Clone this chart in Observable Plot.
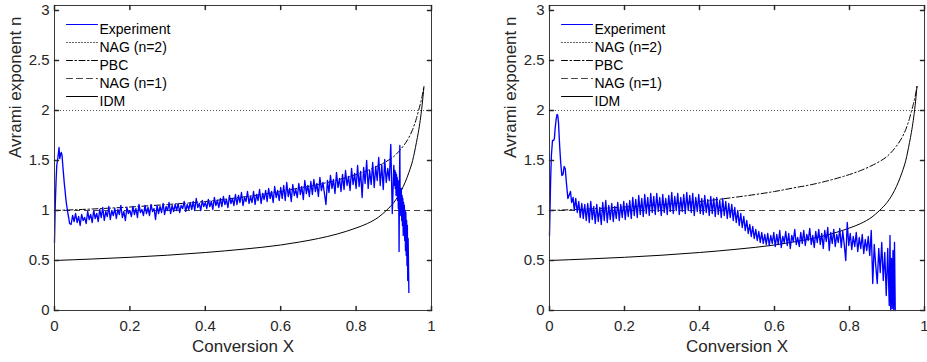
<!DOCTYPE html>
<html><head><meta charset="utf-8">
<script src="https://cdn.jsdelivr.net/npm/d3@7"></script>
<script src="https://cdn.jsdelivr.net/npm/@observablehq/plot@0.6"></script>
<style>
body{margin:0;background:#fff;}
#wrap{position:relative;width:927px;height:362px;}
.panel{position:absolute;top:0;}
</style></head><body><div id="wrap"></div>
<script>
const xTicks = [0, 0.2, 0.4, 0.6, 0.8, 1];
const yTicks = [0, 0.5, 1, 1.5, 2, 2.5, 3];
const xTickLabels = ["0", "0.2", "0.4", "0.6", "0.8", "1"];
const yTickLabels = ["0", "0.5", "1", "1.5", "2", "2.5", "3"];
const nag2Level = [2];
const nag1Level = [1];
const modelX = [0, 0.1, 0.2, 0.3, 0.4, 0.5, 0.6, 0.65, 0.7, 0.75, 0.8, 0.83, 0.86, 0.88, 0.9, 0.92, 0.94, 0.95, 0.96, 0.965, 0.97, 0.975, 0.98];
const idmN = [0.5, 0.515, 0.532, 0.553, 0.58, 0.613, 0.655, 0.685, 0.72, 0.765, 0.825, 0.87, 0.935, 1.0, 1.08, 1.2, 1.38, 1.5, 1.68, 1.78, 1.9, 2.05, 2.24];
const pbcN = [1.0, 1.015, 1.035, 1.06, 1.09, 1.135, 1.19, 1.225, 1.26, 1.305, 1.36, 1.4, 1.45, 1.49, 1.54, 1.62, 1.73, 1.81, 1.92, 1.99, 2.06, 2.14, 2.24];
const legendLabels = ["Experiment", "NAG (n=2)", "PBC", "NAG (n=1)", "IDM"];

// Experiment, left panel: [X, n]
const expLeft = [
[0,.68],[.002,1.05],[.004,1.28],[.006,1.45],[.008,1.5],[.01,1.56],[.012,1.63],[.014,1.52],[.016,1.56],[.018,1.58],[.02,1.55],[.022,1.45],[.024,1.36],[.026,1.27],[.028,1.2],[.03,1.12],[.032,1.06],[.034,1.01],[.036,.96],[.038,.92],[.04,.87],
[.044,.86],[.048,.95],[.052,.89],[.056,.97],[.06,.88],[.064,.94],[.068,.85],[.072,.96],[.076,.9],[.08,.93],
[.084,.87],[.088,.99],[.092,.91],[.096,.96],[.1,.88],[.104,1],[.108,.92],[.112,.97],[.116,.89],[.12,1.01],
[.124,.93],[.128,1.03],[.132,.9],[.136,.99],[.14,.94],[.144,1.04],[.148,.91],[.152,1],[.156,.95],[.16,1.02],
[.164,.92],[.168,1.01],[.172,.96],[.176,1.05],[.18,.93],[.184,.99],[.188,.9],[.192,1.03],[.196,.97],[.2,1],
[.204,.94],[.208,1.04],[.212,.96],[.216,1.02],[.22,.93],[.224,1.06],[.228,.98],[.232,1.01],[.236,.95],[.24,1.05],
[.244,.97],[.248,1.03],[.252,.95],[.256,1.06],[.26,.99],[.264,1.02],[.268,.91],[.272,1.05],[.276,.97],[.28,1.04],
[.284,.98],[.288,1.07],[.292,.96],[.296,1.04],[.3,1],[.304,1.08],[.308,.97],[.312,1.05],[.316,.99],[.32,1.06],
[.324,1],[.328,1.07],[.332,.98],[.336,1.05],[.34,1.02],[.344,1.09],[.348,.99],[.352,1.06],[.356,1.01],[.36,1.08],
[.364,1.01],[.368,1.09],[.372,1],[.376,1.12],[.38,1.03],[.384,1.07],[.388,1],[.392,1.1],[.396,1.04],[.4,1.08],
[.404,1.02],[.408,1.11],[.412,1.04],[.416,1.09],[.42,1.01],[.424,1.13],[.428,1.05],[.432,1.1],[.436,1.03],[.44,1.12],
[.444,1.04],[.448,1.14],[.452,1.06],[.456,1.11],[.46,1.03],[.464,1.15],[.468,1.07],[.472,1.12],[.476,1.05],[.48,1.16],
[.484,1.06],[.488,1.15],[.492,1.08],[.496,1.18],[.5,1.05],[.504,1.13],[.508,1.09],[.512,1.19],[.516,1.07],[.52,1.14],
[.524,1.08],[.528,1.19],[.532,1.06],[.536,1.16],[.54,1.1],[.544,1.21],[.548,1.07],[.552,1.17],[.556,1.11],[.56,1.2],
[.564,1.09],[.568,1.22],[.572,1.12],[.576,1.19],[.58,1.08],[.584,1.24],[.588,1.13],[.592,1.2],[.596,1.1],[.6,1.23],
[.604,1.12],[.608,1.25],[.612,1.1],[.616,1.28],[.62,1.14],[.624,1.22],[.628,1.09],[.632,1.26],[.636,1.15],[.64,1.21],
[.644,1.13],[.648,1.27],[.652,1.16],[.656,1.24],[.66,1.11],[.664,1.3],[.668,1.17],[.672,1.25],[.676,1.14],[.68,1.29],
[.684,1.16],[.688,1.31],[.692,1.19],[.696,1.27],[.7,1.14],[.704,1.33],[.708,1.2],[.712,1.28],[.716,1.17],[.72,1.06],
[.724,1.3],[.728,1.18],[.732,1.35],[.736,1.22],[.74,1.31],[.744,1.17],[.748,1.38],[.752,1.23],[.756,1.32],[.76,1.19],
[.764,1.36],[.768,1.21],[.772,1.4],[.776,1.25],[.78,1.34],[.784,1.2],[.788,1.42],[.792,1.26],[.796,1.37],[.8,1.22],
[.804,1.45],[.808,1.24],[.812,1.39],[.816,1.13],[.82,1.43],[.824,1.27],[.828,1.5],[.832,1.22],[.836,1.4],[.84,1.26],
[.844,1.48],[.848,1.23],[.852,1.44],[.856,1.3],[.86,1.53],[.864,1.25],[.868,1.46],[.872,1.21],[.876,1.51],[.88,1.28],
[.884,1.42],[.888,1.3],[.892,1.66],[.896,.97],[.9,1.45],
[.902,1.25],[.903,1.4],[.904,1.22],[.905,1.38],[.906,1.15],[.907,1.36],[.908,1.18],[.909,1.33],[.91,1.1],[.911,1.3],[.912,1.02],[.913,1.28],[.914,.59],[.915,1.25],[.916,1.65],[.917,.95],[.918,1.2],[.919,1.0],[.92,1.22],
[.921,.9],[.922,1.15],[.923,.85],[.924,1.12],[.925,.75],[.926,1.08],[.927,.8],[.928,1.05],[.929,.7],[.93,1.0],[.931,.6],[.932,.98],[.933,.55],[.934,.9],[.935,.45],[.936,.85],[.937,.3],[.938,.72],[.94,.18]
];

// Experiment, right panel: [X, n]
const expRight = [
[0,.75],[.003,1.3],[.005,1.55],[.008,1.7],[.011,1.7],[.013,1.72],[.015,1.82],[.018,1.92],[.02,1.96],[.022,1.95],[.024,1.88],[.027,1.65],[.03,1.47],[.033,1.35],[.036,1.36],[.039,1.44],[.042,1.42],[.045,1.28],[.049,1.12],[.052,1.15],[.056,1.19],[.059,1.08],[.063,1.13],[.066,1],[.07,1.12],[.074,.98],[.078,1.09],[.082,.93],[.086,1.07],[.09,.92],[.094,1.06],
[.098,.9],[.102,1.07],[.106,.88],[.11,1.09],[.114,.91],[.118,1.04],[.122,.87],[.126,1.06],[.13,.89],[.134,1.03],
[.138,.86],[.142,1.08],[.146,.9],[.15,1.1],[.154,.88],[.158,1.05],[.162,.91],[.166,1.07],[.17,.89],[.174,1.04],
[.178,.92],[.182,1.08],[.186,.9],[.19,1.06],[.194,.93],[.198,1.09],[.202,.91],[.206,1.07],[.21,.94],[.214,1.1],
[.218,.92],[.222,1.13],[.226,.95],[.23,1.11],[.234,.93],[.238,1.15],[.242,.96],[.246,1.12],[.25,.94],[.254,1.16],
[.258,.97],[.262,1.13],[.266,.95],[.27,1.17],[.274,.98],[.278,1.14],[.282,.96],[.286,1.17],[.29,.99],[.294,1.13],
[.298,.95],[.302,1.16],[.306,.98],[.31,1.12],[.314,.96],[.318,1.15],[.322,.99],[.326,1.18],[.33,.97],[.334,1.14],
[.338,1],[.342,1.17],[.346,.96],[.35,1.13],[.354,.99],[.358,1.16],[.362,.97],[.366,1.18],[.37,1],[.374,1.15],
[.378,.98],[.382,1.17],[.386,.95],[.39,1.13],[.394,.99],[.398,1.16],[.402,.97],[.406,1.12],[.41,.96],[.414,1.15],
[.418,.98],[.422,1.11],[.426,.95],[.43,1.14],[.434,.97],[.438,1.12],[.442,.94],[.446,1.13],[.45,.96],[.454,1.1],
[.458,.93],[.462,1.12],[.466,.95],[.47,1.09],[.474,.92],[.478,1.07],[.482,.93],[.486,1.06],[.49,.9],[.494,1.03],
[.498,.88],[.502,1],[.506,.85],[.51,.97],[.514,.83],[.518,.94],[.522,.8],[.526,.9],[.53,.77],[.534,.86],
[.538,.74],[.542,.84],[.546,.72],[.55,.81],[.554,.7],[.558,.79],[.562,.68],[.566,.78],[.57,.67],[.574,.76],
[.578,.66],[.582,.77],[.586,.65],[.59,.75],[.594,.67],[.598,.78],
[.602,.64],[.606,.76],[.61,.66],[.614,.8],[.618,.63],[.622,.74],[.626,.68],[.63,.79],[.634,.65],[.638,.77],
[.642,.62],[.646,.75],[.65,.69],[.654,.81],[.658,.66],[.662,.73],[.666,.64],[.67,.78],[.674,.67],[.678,.8],
[.682,.65],[.686,.76],[.69,.7],[.694,.82],[.698,.66],[.702,.75],[.706,.63],[.71,.79],[.714,.68],[.718,.81],
[.722,.66],[.726,.77],[.73,.62],[.734,.8],[.738,.69],[.742,.83],[.746,.6],[.75,.78],[.754,.67],[.758,.81],
[.762,.64],[.766,.76],[.77,.68],[.774,.82],[.778,.63],[.782,.79],[.786,.66],[.79,.5],[.794,.88],[.798,.65],
[.802,.77],[.806,.61],[.81,.74],[.814,.64],[.818,.78],[.822,.59],[.826,.73],[.83,.62],[.834,.76],[.838,.57],
[.842,.71],[.846,.6],[.85,.74],[.854,.55],[.858,.8],[.862,.27],[.866,.66],[.87,.45],[.874,.27],[.878,.62],
[.882,.38],[.886,.68],[.89,.3],[.894,.58],[.898,.15],[.902,.62],[.906,.05],[.908,.75],[.91,0],[.912,.52],
[.914,.02],[.916,.6],[.918,0],[.92,.68],[.922,0]
];

const FONT = "'Liberation Sans', Arial, Helvetica, sans-serif";
const AXIS = "#262626";
const tickShape = {draw(ctx, l) { ctx.moveTo(0, 0); ctx.lineTo(0, -l); }};
const legendStroke = ["#0000ff", "#555", "#000", "#444", "#000"];
const legendDash = [null, "1,2", "6,2.5,1.5,2.5", "6,4", null];

function panel(expData, width, marginLeft, marginRight) {
  const exp = expData.map(([x, n]) => ({x, n}));
  const idm = modelX.map((x, i) => ({x, n: idmN[i]}));
  const pbc = modelX.map((x, i) => ({x, n: pbcN[i]}));
  const legendMarks = legendLabels.flatMap((lab, i) => [
    Plot.vector([lab], {frameAnchor: "top-left", dx: 12, dy: 19 + 18 * i, rotate: 90, length: 31, anchor: "start",
      shape: tickShape, stroke: legendStroke[i], strokeDasharray: legendDash[i], strokeWidth: 1}),
    Plot.text([lab], {frameAnchor: "top-left", dx: 45, dy: 19 + 18 * i, textAnchor: "start", fontSize: 14, fill: "#000"})
  ]);
  return Plot.plot({
    width, height: 362, marginLeft, marginRight, marginTop: 5, marginBottom: 52,
    x: {domain: [0, 1]},
    y: {domain: [0, 3.05]},
    style: {fontFamily: FONT, fontSize: "15px", color: AXIS, background: "white", overflow: "visible"},
    marks: [
      Plot.ruleY(nag2Level, {stroke: "#555", strokeDasharray: "1,2", strokeWidth: 1}),
      Plot.ruleY(nag1Level, {stroke: "#444", strokeDasharray: "6,4", strokeWidth: 1.2}),
      Plot.line(pbc, {x: "x", y: "n", stroke: "#000", strokeWidth: 1, strokeDasharray: "6,2.5,1.5,2.5", curve: "monotone-x"}),
      Plot.line(idm, {x: "x", y: "n", stroke: "#000", strokeWidth: 1, curve: "monotone-x"}),
      Plot.line(exp, {x: "x", y: "n", stroke: "#0000ff", strokeWidth: 1.35}),
      Plot.frame({stroke: "#3a3a3a"}),
      Plot.vector(xTicks, {x: d => d, frameAnchor: "bottom", length: 4, anchor: "start", shape: tickShape, stroke: AXIS}),
      Plot.vector(xTicks, {x: d => d, frameAnchor: "top", rotate: 180, length: 4, anchor: "start", shape: tickShape, stroke: AXIS}),
      Plot.vector(yTicks, {y: d => d, frameAnchor: "left", rotate: 90, length: 4, anchor: "start", shape: tickShape, stroke: AXIS}),
      Plot.vector(yTicks, {y: d => d, frameAnchor: "right", rotate: -90, length: 4, anchor: "start", shape: tickShape, stroke: AXIS}),
      Plot.axisX({ticks: xTicks, tickSize: 0, tickPadding: 10, label: null, fontSize: 15, tickFormat: (d, i) => xTickLabels[i]}),
      Plot.axisY({ticks: yTicks, tickSize: 0, tickPadding: 5, label: null, fontSize: 15, tickFormat: (d, i) => yTickLabels[i]}),
      Plot.text(["Conversion X"], {frameAnchor: "bottom", dy: 41, fontSize: 17, fill: AXIS}),
      Plot.text(["Avrami exponent n"], {frameAnchor: "left", dx: -39, rotate: -90, fontSize: 17, fill: AXIS}),
      ...legendMarks
    ]
  });
}

const wrap = document.getElementById("wrap");
const left = document.createElement("div");
left.className = "panel"; left.style.left = "0px";
left.appendChild(panel(expLeft, 463, 54, 32));
const right = document.createElement("div");
right.className = "panel"; right.style.left = "463px";
right.appendChild(panel(expRight, 464, 86, 3));
wrap.appendChild(left); wrap.appendChild(right);
</script></body></html>
